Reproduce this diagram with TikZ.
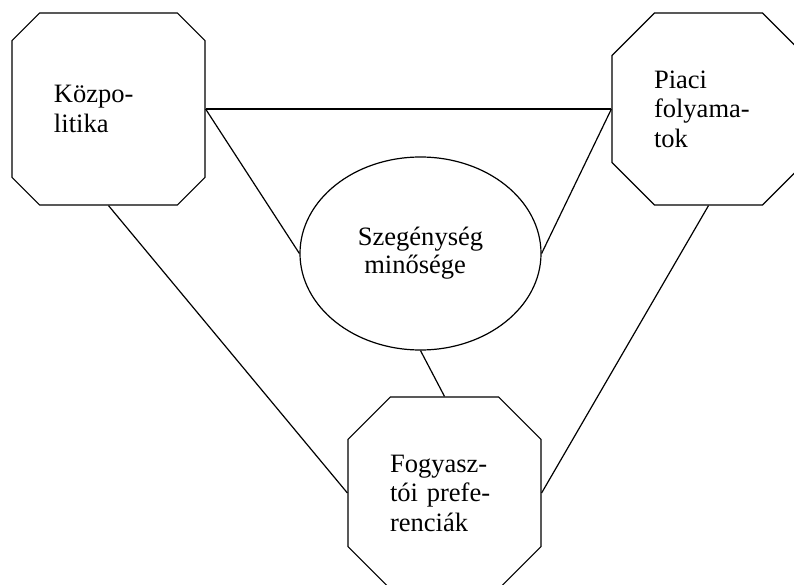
\documentclass[tikz,border=0pt]{standalone}
\usepackage{fontspec}
\setmainfont{Liberation Serif}
\usetikzlibrary{shapes.misc,shapes.geometric}
\tikzset{
  octa/.style={chamfered rectangle, chamfered rectangle xsep=33pt, draw, line width=0.9pt,
    minimum width=144.75pt, minimum height=144pt, inner sep=0pt,
    text width=81.75pt, align=left, font=\fontsize{19.9}{22.1}\selectfont},
  oval/.style={ellipse, draw, line width=0.9pt, minimum width=180.75pt, minimum height=144.75pt,
    inner sep=0pt, align=center, font=\fontsize{19.9}{21}\selectfont},
  conn/.style={line width=0.9pt}
}
\begin{document}
\begin{tikzpicture}[x=0.75pt,y=-0.75pt]
\useasboundingbox (0,0) rectangle (794,585);
\clip (0,0) rectangle (794,585);
\node[octa] (L) at (108.5,109) {Közpo-\\litika};
\node[octa] (R) at (708.5,109) {Piaci\\folyama-\\tok};
\node[octa] (B) at (444.5,493) {Fogyasz-\\tói\ prefe-\\renciák};
\node[oval] (E) at (420.5,253.5) {Szegénység\\minősége\hspace*{8pt}};
\draw[conn] (L.east) -- (R.west);
\draw[conn] (L.east) -- (E.west);
\draw[conn] (R.west) -- (E.east);
\draw[conn] (L.south) -- (B.west);
\draw[conn] (R.south) -- (B.east);
\draw[conn] (E.south) -- (B.north);
\end{tikzpicture}
\end{document}
